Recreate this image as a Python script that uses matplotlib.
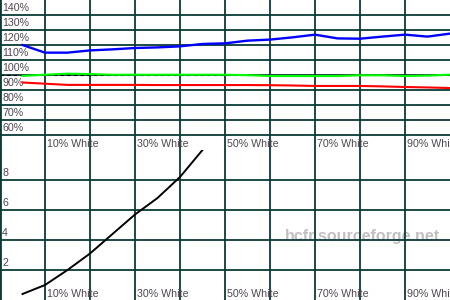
import matplotlib
matplotlib.use('Agg')
import matplotlib.pyplot as plt

plt.rcParams['font.family'] = ['Liberation Sans', 'DejaVu Sans']

# grey levels (% white) of the measured patches
levels = [5, 10, 15, 20, 25, 30, 35, 40, 45, 50,
          55, 60, 65, 70, 75, 80, 85, 90, 95, 100]

# RGB levels, % of target
red = [95.0, 94.2, 93.4, 93.4, 93.4, 93.4, 93.3, 93.3, 93.3, 93.3,
       93.3, 93.2, 93.0, 92.7, 92.7, 92.7, 92.4, 92.0, 91.7, 91.3]
green = [99.4, 100.2, 100.9, 100.6, 100.2, 100.2, 100.2, 100.2, 100.2, 100.2,
         99.9, 99.3, 99.3, 99.3, 99.3, 99.8, 99.8, 99.3, 99.6, 100.2]
blue = [120.0, 114.9, 114.9, 116.4, 117.1, 118.0, 118.4, 119.1, 120.7, 121.1,
        122.9, 123.6, 125.1, 126.9, 124.4, 124.2, 125.6, 126.9, 125.6, 127.6]

# delta E, only the visible part
de_levels = [5, 10, 15, 20, 25, 30, 35, 40, 45]
delta_e = [0.4, 1.0, 2.0, 3.1, 4.4, 5.7, 6.8, 8.2, 10.0]

pct_ticks = [60, 70, 80, 90, 100, 110, 120, 130, 140]
de_ticks = [2, 4, 6, 8]
x_grid = [10, 20, 30, 40, 50, 60, 70, 80, 90]
x_labels = [10, 30, 50, 70, 90]

grid_col = '#0a3c36'
text_col = '#4e4650'

fig = plt.figure(figsize=(4.5, 3), dpi=100)
ax_top = fig.add_axes([0, 0.5, 1, 0.5])
ax_bot = fig.add_axes([0, 0, 1, 0.5])


def setup(ax, yticks, fmt):
    ax.set_xlim(0, 100)
    ax.set_xticks(x_grid)
    ax.set_yticks(yticks)
    ax.set_axisbelow(True)
    ax.grid(True, color=grid_col, lw=1.3)
    ax.tick_params(length=0, labelbottom=False, labelleft=False)
    for s in ['top', 'right', 'bottom']:
        ax.spines[s].set_visible(False)
    ax.spines['left'].set_color(grid_col)
    ax.spines['left'].set_linewidth(2)
    for v in yticks:
        ax.annotate(fmt.format(v), (0, v), xytext=(1.5, 5), textcoords='offset points',
                    va='center', ha='left', fontsize=7.7, color=text_col)
    for x in x_labels:
        ax.annotate(f'{x}% White', (x, 0), xycoords=('data', 'axes fraction'),
                    xytext=(1.4, 4.3), textcoords='offset points',
                    va='center', ha='left', fontsize=7.7, color=text_col,
                    annotation_clip=False)


# 1. RGB levels
ax_top.set_ylim(50, 150)
setup(ax_top, pct_ticks, '{}%')
ax_top.axhline(100, color='black', lw=0.8, ls=(0, (3, 3)), zorder=1)
ax_top.plot(levels, blue, color='#0000ff', lw=1.7, zorder=3)
ax_top.plot(levels, green, color='#00ff00', lw=1.5, zorder=3)
ax_top.plot(levels, red, color='#ff0000', lw=1.5, zorder=3)

# 2. delta E
ax_bot.set_ylim(0, 10)
setup(ax_bot, de_ticks, '{}')
ax_bot.plot(de_levels, delta_e, color='black', lw=1.4, zorder=3)
ax_bot.text(0.633, 0.393, 'hcfr.sourceforge.net', transform=ax_bot.transAxes,
            fontsize=11.5, fontweight='bold', color='#c0c0c0',
            ha='left', va='baseline', zorder=0.1)

fig.savefig('out.png', dpi=100)
